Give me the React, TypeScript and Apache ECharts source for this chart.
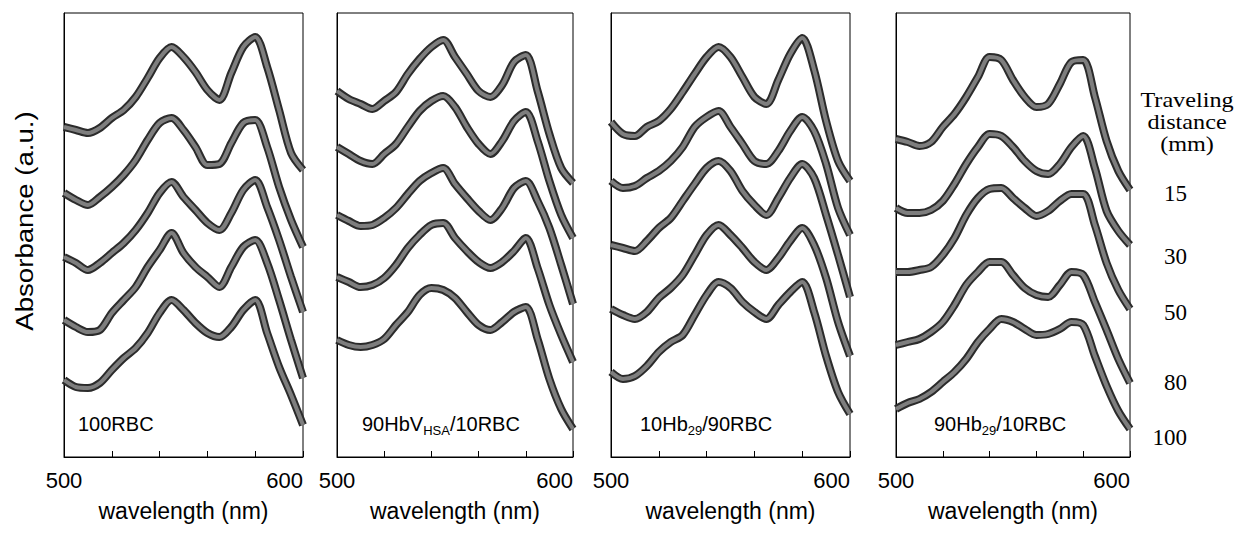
import React, { useEffect, useRef } from 'react';
import * as echarts from 'echarts';

// Wavelength grid (nm)
const WAVELENGTHS = [500, 505, 510, 515, 520, 525, 530, 535, 540, 545, 550, 555, 560, 565, 570, 575, 580, 585, 590, 595, 600];
const X_TICK_LABELS = [500, 600];
const DISTANCES = ['15', '30', '50', '80', '100'];

// Panel 1: 100RBC (absorbance, arbitrary units, offsets included)
const P1_15 = [330, 327, 324, 329, 339, 347, 360, 379, 399, 410, 400, 385, 367, 357, 384, 410, 420, 390, 347, 304, 287];
const P1_30 = [264, 257, 252, 260, 270, 282, 297, 317, 334, 339, 327, 310, 292, 293, 314, 334, 337, 310, 270, 237, 210];
const P1_50 = [200, 194, 187, 194, 204, 214, 227, 244, 264, 275, 260, 247, 234, 227, 244, 267, 277, 250, 217, 180, 145];
const P1_80 = [137, 130, 125, 127, 144, 157, 170, 190, 207, 224, 204, 190, 180, 170, 190, 210, 217, 194, 157, 117, 79];
const P1_100 = [77, 70, 69, 74, 87, 99, 109, 124, 144, 157, 147, 134, 124, 120, 130, 147, 157, 124, 90, 62, 32];

// Panel 2: 90HbV(HSA)/10RBC
const P2_15 = [366, 358, 353, 348, 356, 365, 383, 398, 410, 417, 400, 383, 366, 360, 372, 395, 402, 366, 323, 289, 274];
const P2_30 = [310, 303, 296, 293, 303, 313, 330, 346, 356, 361, 350, 330, 313, 303, 316, 336, 345, 316, 276, 242, 219];
const P2_50 = [242, 236, 231, 232, 239, 249, 263, 276, 284, 289, 273, 259, 246, 237, 249, 269, 276, 256, 229, 192, 153];
const P2_80 = [180, 175, 170, 172, 179, 192, 209, 222, 232, 234, 219, 206, 195, 189, 195, 206, 219, 189, 152, 122, 95];
const P2_100 = [117, 112, 110, 112, 118, 132, 145, 162, 169, 167, 159, 145, 132, 127, 135, 145, 150, 118, 78, 48, 28];

// Panel 3: 10Hb29/90RBC
const P3_15 = [335, 323, 321, 330, 336, 348, 365, 383, 400, 410, 400, 380, 360, 353, 377, 403, 419, 387, 336, 296, 276];
const P3_30 = [276, 269, 271, 279, 286, 296, 310, 330, 340, 346, 330, 313, 296, 293, 306, 326, 340, 326, 293, 249, 222];
const P3_50 = [212, 209, 206, 216, 229, 239, 256, 273, 289, 296, 286, 266, 252, 242, 259, 279, 293, 279, 242, 202, 160];
const P3_80 = [148, 142, 138, 145, 159, 169, 182, 202, 222, 232, 222, 209, 195, 187, 199, 216, 229, 212, 179, 135, 101];
const P3_100 = [85, 78, 81, 91, 105, 115, 122, 142, 162, 175, 169, 155, 145, 138, 152, 165, 175, 145, 101, 65, 43];

// Panel 4: 90Hb29/10RBC
const P4_15 = [318, 315, 311, 315, 330, 343, 360, 380, 400, 397, 377, 360, 350, 353, 373, 395, 397, 360, 316, 286, 267];
const P4_30 = [249, 244, 244, 247, 256, 273, 293, 310, 323, 321, 310, 296, 286, 283, 293, 310, 321, 289, 246, 226, 212];
const P4_50 = [185, 185, 187, 190, 202, 219, 242, 259, 268, 269, 259, 249, 241, 246, 256, 263, 263, 232, 194, 167, 148];
const P4_80 = [112, 115, 118, 125, 135, 152, 172, 185, 195, 195, 182, 169, 162, 160, 172, 185, 182, 155, 127, 98, 74];
const P4_100 = [48, 54, 58, 65, 75, 85, 98, 115, 128, 138, 135, 128, 122, 123, 128, 135, 132, 101, 71, 46, 28];

const PANEL_CURVES = [
  [P1_15, P1_30, P1_50, P1_80, P1_100],
  [P2_15, P2_30, P2_50, P2_80, P2_100],
  [P3_15, P3_30, P3_50, P3_80, P3_100],
  [P4_15, P4_30, P4_50, P4_80, P4_100],
];

// Panel labels as rich text (main / subscript)
const PANEL_LABELS = [
  '{n|100RBC}',
  '{n|90HbV}{s|HSA}{n|/10RBC}',
  '{n|10Hb}{s|29}{n|/90RBC}',
  '{n|90Hb}{s|29}{n|/10RBC}',
];

// Layout (pixels)
const GRIDS = [
  { left: 64, width: 239 },
  { left: 337, width: 236 },
  { left: 611, width: 239 },
  { left: 896, width: 234 },
];
const LABEL_X = [78, 362, 640, 934];
const GRID_TOP = 13;
const GRID_H = 444;
const DIST_Y = [193, 256, 312, 382, 437];

const SANS = '"Liberation Sans", Arial, sans-serif';
const SERIF = '"Liberation Serif", "Times New Roman", serif';

export default function App() {
  const ref = useRef<HTMLDivElement>(null);

  useEffect(() => {
    document.body.style.margin = '0';
    if (!ref.current) return;
    const chart = echarts.init(ref.current, undefined, { renderer: 'svg' });

    const grid = GRIDS.map((g) => ({
      left: g.left,
      width: g.width,
      top: GRID_TOP,
      height: GRID_H,
      show: true,
      borderColor: '#000',
      borderWidth: 1,
      backgroundColor: 'transparent',
    }));

    const xAxis = GRIDS.map((_, i) => ({
      gridIndex: i,
      type: 'value',
      min: 500,
      max: 600,
      interval: 20,
      axisLine: { show: true, lineStyle: { color: '#000', width: 1 } },
      axisTick: { show: true, inside: true, length: 6, lineStyle: { color: '#000', width: 1 } },
      axisLabel: {
        formatter: (v: number) => (X_TICK_LABELS.includes(v) ? String(v) : ''),
        fontSize: 22,
        fontFamily: SANS,
        color: '#000',
        margin: 12,
        alignMinLabel: 'center',
        alignMaxLabel: 'right',
      },
      splitLine: { show: false },
      name: 'wavelength (nm)',
      nameLocation: 'middle',
      nameGap: 42,
      nameTextStyle: { fontSize: 23, fontFamily: SANS, color: '#000' },
    }));

    const yAxis = GRIDS.map((_, i) => ({
      gridIndex: i,
      type: 'value',
      min: 0,
      max: GRID_H,
      axisLine: { show: true, lineStyle: { color: '#000', width: 1 } },
      axisTick: { show: false },
      axisLabel: { show: false },
      splitLine: { show: false },
    }));

    const series: any[] = [];
    PANEL_CURVES.forEach((curves, pi) => {
      curves.forEach((vals, ci) => {
        const data = WAVELENGTHS.map((w, k) => [w, vals[k]]);
        series.push({
          type: 'line',
          name: `p${pi}-${DISTANCES[ci]}-edge`,
          xAxisIndex: pi,
          yAxisIndex: pi,
          data,
          showSymbol: false,
          smooth: 0.3,
          clip: false,
          z: 2,
          lineStyle: { color: '#2b2b2b', width: 8 },
        });
        series.push({
          type: 'line',
          name: `p${pi}-${DISTANCES[ci]}-core`,
          xAxisIndex: pi,
          yAxisIndex: pi,
          data,
          showSymbol: false,
          smooth: 0.3,
          clip: false,
          z: 3,
          lineStyle: { color: '#7e7e7e', width: 4 },
        });
      });
    });

    const graphic: any[] = [
      {
        type: 'text',
        x: 25,
        y: 221,
        rotation: Math.PI / 2,
        scaleX: 1.15,
        style: {
          text: 'Absorbance (a.u.)',
          fontSize: 24,
          fontFamily: SANS,
          fill: '#000',
          align: 'center',
          verticalAlign: 'middle',
        },
      },
    ];
    ['Traveling', 'distance', '(mm)'].forEach((t, i) => {
      graphic.push({
        type: 'text',
        x: 1187,
        y: 99 + i * 22,
        scaleX: 1.1,
        style: {
          text: t,
          fontSize: 22,
          fontFamily: SERIF,
          fill: '#000',
          align: 'center',
          verticalAlign: 'middle',
        },
      });
    });
    DISTANCES.forEach((d, i) => {
      graphic.push({
        type: 'text',
        x: 1187,
        y: DIST_Y[i],
        style: {
          text: d,
          fontSize: 23,
          fontFamily: SERIF,
          fill: '#000',
          align: 'right',
          verticalAlign: 'middle',
        },
      });
    });
    PANEL_LABELS.forEach((t, i) => {
      graphic.push({
        type: 'text',
        x: LABEL_X[i],
        y: 424,
        style: {
          text: t,
          fill: '#000',
          align: 'left',
          verticalAlign: 'middle',
          rich: {
            n: { fontSize: 20, fontFamily: SANS, lineHeight: 26, verticalAlign: 'middle', fill: '#000' },
            s: { fontSize: 13, fontFamily: SANS, lineHeight: 13, verticalAlign: 'bottom', fill: '#000' },
          },
        },
      });
    });

    chart.setOption({
      animation: false,
      backgroundColor: '#fff',
      grid,
      xAxis,
      yAxis,
      series,
      graphic,
    });

    return () => chart.dispose();
  }, []);

  return <div ref={ref} style={{ width: 1239, height: 534 }} />;
}
